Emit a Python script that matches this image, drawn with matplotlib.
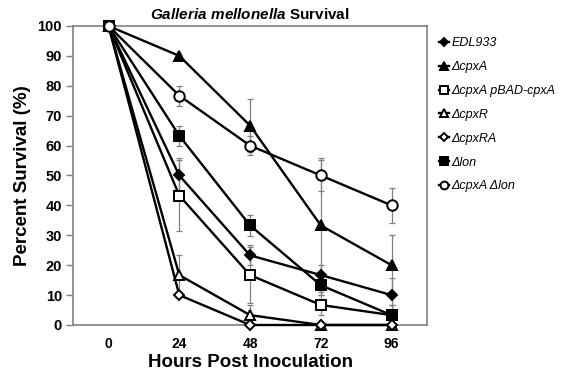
import numpy as np
import matplotlib
matplotlib.use("Agg")
from matplotlib import pyplot as plt

plt.rcParams['font.family'] = ['Liberation Sans', 'DejaVu Sans']
plt.rcParams['mathtext.fontset'] = 'custom'
plt.rcParams['mathtext.it'] = 'Liberation Sans:italic:bold'
plt.rcParams['mathtext.rm'] = 'Liberation Sans:bold'

# ==== data ====
hours = ["0", "24", "48", "72", "96"]

edl933 = [100, 50, 23.3, 16.7, 10]
cpxA = [100, 90, 66.7, 33.3, 20]
cpxA_pbad = [100, 43.3, 16.7, 6.7, 3.3]
cpxR = [100, 16.7, 3.3, 0, 0]
cpxRA = [100, 10, 0, 0, 0]
lon = [100, 63.3, 33.3, 13.3, 3.3]
cpxA_lon = [100, 76.7, 60, 50, 40]

edl933_err = [0, 5.8, 3.3, 3.3, 5.8]
cpxA_err = [0, 0, 8.8, 22.4, 10]
cpxA_pbad_err = [0, 12, 9.5, 3.3, 3.3]
cpxR_err = [0, 6.7, 3.3, 0, 0]
cpxRA_err = [0, 0, 0, 0, 0]
lon_err = [0, 3.3, 3.4, 3.3, 3.3]
cpxA_lon_err = [0, 3.3, 3.3, 5.3, 5.8]

labels = ["EDL933", "ΔcpxA", "ΔcpxA pBAD-cpxA", "ΔcpxR", "ΔcpxRA", "Δlon", "ΔcpxA Δlon"]

series = [
    (edl933, edl933_err, "D", "black", 5),
    (cpxA, cpxA_err, "^", "black", 7),
    (cpxA_pbad, cpxA_pbad_err, "s", "white", 7),
    (cpxR, cpxR_err, "^", "white", 7),
    (cpxRA, cpxRA_err, "D", "white", 5.5),
    (lon, lon_err, "s", "black", 7),
    (cpxA_lon, cpxA_lon_err, "o", "white", 7.5),
]

fig = plt.figure(figsize=(5.67, 3.71), dpi=100)
ax = fig.add_axes([0.129, 0.124, 0.624, 0.806])

x = np.arange(len(hours))
for (vals, err, mk, fc, ms), lab in zip(series, labels):
    ax.errorbar(x, vals, yerr=err, fmt="none", ecolor="#808080",
                elinewidth=0.9, capsize=2, capthick=0.9, zorder=2)
    ax.plot(x, vals, color="black", lw=1.7, marker=mk, markersize=ms,
            markerfacecolor=fc, markeredgecolor="black", markeredgewidth=1.4,
            label=lab, zorder=3, clip_on=False)

ax.set_xlim(-0.5, len(hours) - 0.5)
ax.set_ylim(0, 100)
ax.set_xticks(x)
ax.set_xticklabels(hours)
ax.set_yticks(np.arange(0, 101, 10))
ax.tick_params(axis="x", length=0, pad=9, labelsize=10)
ax.tick_params(axis="y", length=5, width=1, color="#808080", labelsize=10.5, pad=3)
for t in ax.get_xticklabels() + ax.get_yticklabels():
    t.set_fontweight("bold")
for s in ax.spines.values():
    s.set_color("#808080")
    s.set_linewidth(1.2)

ax.set_xlabel("Hours Post Inoculation", fontsize=13.5, fontweight="bold", labelpad=2)
ax.set_ylabel("Percent Survival (%)", fontsize=13.5, fontweight="bold", labelpad=5)
ax.set_title(r"$\it{Galleria\ mellonella}$ Survival", fontsize=11, fontweight="bold", pad=5)

fig.legend(loc="upper left", bbox_to_anchor=(0.755, 0.93), frameon=False,
           handlelength=0.8, handletextpad=0.15, labelspacing=0.95,
           prop={"style": "italic", "size": 9}, markerscale=0.75)

fig.savefig("out.png", dpi=100)
